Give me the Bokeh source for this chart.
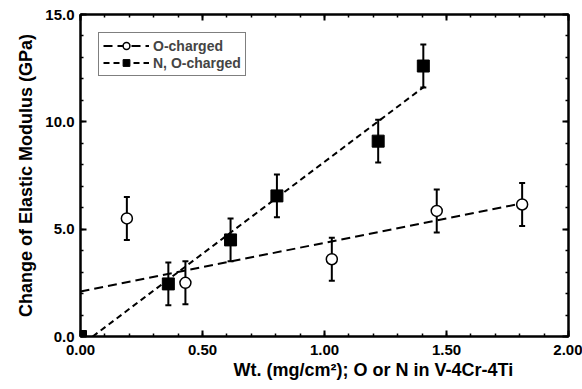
from bokeh.plotting import figure
from bokeh.models import (ColumnDataSource, Whisker, TeeHead, LinearAxis, FixedTicker,
                          Range1d, Legend, LegendItem, Title)
from bokeh.embed import file_html
from bokeh.resources import INLINE

# O-charged data (open circles)
o_x = [0.19, 0.43, 1.03, 1.46, 1.81]
o_y = [5.5, 2.5, 3.6, 5.85, 6.15]
o_err = [1.0, 1.0, 1.0, 1.0, 1.0]
# N, O-charged data (filled squares)
n_x = [0.0, 0.36, 0.615, 0.805, 1.22, 1.405]
n_y = [0.0, 2.45, 4.5, 6.55, 9.1, 12.6]
n_err = [0.0, 1.0, 1.0, 1.0, 1.0, 1.0]
# fitted lines (endpoints)
o_fit_x = [0.0, 1.81]
o_fit_y = [2.1, 6.2]
n_fit_x = [0.05, 1.41]
n_fit_y = [0.0, 11.65]

x_ticks = [0.0, 0.5, 1.0, 1.5, 2.0]
x_tick_labels = ["0.00", "0.50", "1.00", "1.50", "2.00"]
y_ticks = [0.0, 5.0, 10.0, 15.0]
y_tick_labels = ["0.0", "5.0", "10.0", "15.0"]
x_minor = [i / 10 for i in range(21)]
y_minor = [float(i) for i in range(16)]

FONT = "Liberation Sans"

p = figure(width=582, height=389, output_backend="svg", toolbar_location=None,
           x_range=Range1d(0, 2.0), y_range=Range1d(0, 15.0),
           min_border_left=80, min_border_right=14, min_border_top=14, min_border_bottom=53,
           x_axis_location=None, y_axis_location=None)
p.xgrid.visible = False
p.ygrid.visible = False
p.outline_line_color = "black"
p.outline_line_width = 2
p.background_fill_color = "white"
p.border_fill_color = "white"


def style_axis(ax, ticks, minor, labels, show_labels):
    ax.ticker = FixedTicker(ticks=ticks, minor_ticks=minor)
    if show_labels:
        ax.major_label_overrides = {t: l for t, l in zip(ticks, labels)}
    else:
        ax.major_label_overrides = {t: "" for t in ticks}
    ax.major_tick_in = 6
    ax.major_tick_out = 0
    ax.minor_tick_in = 3
    ax.minor_tick_out = 0
    ax.major_tick_line_width = 2
    ax.minor_tick_line_width = 1.5
    ax.axis_line_width = 2
    ax.axis_line_color = "black"
    ax.major_label_text_font = FONT
    ax.major_label_text_font_style = "bold"
    ax.major_label_text_font_size = "15px"
    ax.major_label_text_color = "black"
    ax.major_label_standoff = 6 if show_labels else 0


yl = LinearAxis()
style_axis(yl, y_ticks, y_minor, y_tick_labels, True)
yl.axis_label = "Change of Elastic Modulus (GPa)"
yl.axis_label_text_font = FONT
yl.axis_label_text_font_style = "bold"
yl.axis_label_text_font_size = "18px"
yl.axis_label_text_color = "black"
yl.axis_label_standoff = 6
p.add_layout(yl, "left")

yr = LinearAxis()
style_axis(yr, y_ticks, y_minor, y_tick_labels, False)
p.add_layout(yr, "right")

xb = LinearAxis()
style_axis(xb, x_ticks, x_minor, x_tick_labels, True)
xb.major_label_standoff = 8
p.add_layout(xb, "below")

xt = LinearAxis()
style_axis(xt, x_ticks, x_minor, x_tick_labels, False)
p.add_layout(xt, "above")

xtitle = Title(text="Wt.  (mg/cm²); O or N in V-4Cr-4Ti", align="left", offset=153,
               text_font=FONT, text_font_style="bold", text_font_size="18px",
               text_color="black", standoff=0)
p.add_layout(xtitle, "below")

# fit lines
l_o = p.line(o_fit_x, o_fit_y, line_color="black", line_width=2, line_dash="9 5")
l_n = p.line(n_fit_x, n_fit_y, line_color="black", line_width=2, line_dash="6 4")

# error bars
src_o = ColumnDataSource(dict(x=o_x, y=o_y,
                              lo=[y - e for y, e in zip(o_y, o_err)],
                              up=[y + e for y, e in zip(o_y, o_err)]))
src_n = ColumnDataSource(dict(x=n_x, y=n_y,
                              lo=[y - e for y, e in zip(n_y, n_err)],
                              up=[y + e for y, e in zip(n_y, n_err)]))
for src in (src_o, src_n):
    w = Whisker(source=src, base="x", lower="lo", upper="up", line_width=2, line_color="black",
                upper_head=TeeHead(size=6, line_width=2, line_color="black"),
                lower_head=TeeHead(size=6, line_width=2, line_color="black"))
    p.add_layout(w)

s_o = p.scatter("x", "y", source=src_o, marker="circle", size=11, fill_color="white",
                line_color="black", line_width=1.5)
s_n = p.scatter("x", "y", source=src_n, marker="square", size=12, fill_color="black",
                line_color="black")

legend = Legend(items=[LegendItem(label="O-charged", renderers=[l_o, s_o]),
                       LegendItem(label="N, O-charged", renderers=[l_n, s_n])],
                location="top_left", margin=18, padding=4, spacing=0,
                label_text_font=FONT, label_text_font_style="bold",
                label_text_font_size="14px", label_height=17,
                glyph_height=17, glyph_width=46, label_standoff=4,
                border_line_color="black", border_line_width=1.5,
                background_fill_color="white", background_fill_alpha=1.0)
p.add_layout(legend)

open("out.html", "w").write(file_html(p, INLINE))
